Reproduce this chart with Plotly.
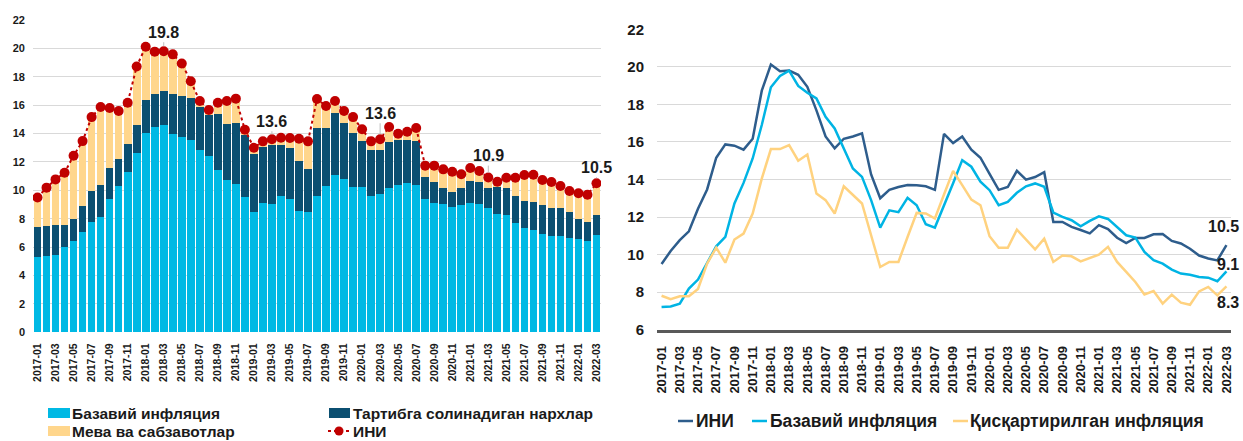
import plotly.graph_objects as go
import pandas as pd

months = [p.strftime("%Y-%m") for p in pd.period_range("2017-01", "2022-03", freq="M")]
tick_months = months[::2]

# Left chart: contributions (stacked bars) and headline CPI (ИНИ)
base_contrib = [5.28, 5.38, 5.45, 6.03, 6.43, 7.09, 7.79, 8.12, 9.37, 10.3, 11.27, 12.63,
                14.06, 14.44, 14.6, 13.99, 13.76, 13.54, 12.82, 12.39, 11.46, 10.73, 10.47, 9.53,
                8.45, 9.13, 9.04, 9.6, 9.37, 8.57, 8.45, 9.6, 10.3, 11.1, 10.8, 10.23,
                10.23, 9.6, 9.74, 10.19, 10.38, 10.54, 10.4, 9.37, 9.13, 9.04, 8.8, 8.97,
                9.13, 9.04, 8.76, 8.36, 8.24, 7.72, 7.35, 7.23, 6.95, 6.81, 6.81, 6.64,
                6.6, 6.46, 6.83]
regulated_contrib = [2.16, 2.11, 2.11, 1.53, 1.57, 1.78, 2.14, 2.26, 2.20, 1.88, 1.97, 1.99,
                     2.28, 2.37, 2.42, 2.82, 2.86, 2.99, 3.07, 2.94, 3.89, 3.94, 4.30, 4.37,
                     4.13, 3.92, 4.13, 3.62, 3.61, 3.52, 3.05, 4.79, 4.09, 4.32, 3.92, 3.78,
                     3.22, 3.22, 3.12, 3.19, 3.19, 3.03, 3.07, 1.59, 1.48, 1.15, 1.06, 1.22,
                     1.55, 1.57, 1.43, 1.87, 1.92, 1.90, 1.92, 1.97, 2.04, 1.95, 1.92, 1.81,
                     1.36, 1.31, 1.41]
fruitveg_contrib = [2.06, 2.70, 3.21, 3.68, 4.44, 4.60, 5.23, 5.49, 4.23, 3.41, 2.93, 4.11,
                    3.78, 2.96, 2.78, 2.77, 2.32, 1.15, 0.40, 0.33, 0.82, 1.62, 1.69, 0.37,
                    0.42, 0.40, 0.43, 0.49, 0.71, 1.55, 1.95, 2.04, 1.55, 0.87, 0.87, 1.15,
                    0.85, 0.63, 0.74, 1.08, 0.42, 0.56, 0.92, 0.78, 1.13, 1.29, 1.45, 0.94,
                    0.89, 0.75, 0.71, 0.38, 0.73, 1.27, 1.81, 1.90, 1.74, 1.83, 1.58, 1.50,
                    1.83, 1.92, 2.26]
cpi = [9.5, 10.19, 10.77, 11.24, 12.44, 13.47, 15.16, 15.87, 15.8, 15.59, 16.17, 18.73,
       20.12, 19.77, 19.8, 19.58, 18.94, 17.68, 16.29, 15.66, 16.17, 16.29, 16.46, 14.27,
       13.0, 13.45, 13.6, 13.71, 13.69, 13.64, 13.45, 16.43, 15.94, 16.29, 15.59, 15.16,
       14.3, 13.45, 13.6, 14.46, 13.99, 14.13, 14.39, 11.74, 11.74, 11.48, 11.31, 11.13,
       11.57, 11.36, 10.9, 10.61, 10.89, 10.89, 11.08, 11.1, 10.73, 10.59, 10.31, 9.95,
       9.79, 9.69, 10.5]

# Right chart: core and trimmed inflation
core = [7.21, 7.24, 7.39, 8.19, 8.67, 9.52, 10.44, 10.94, 12.72, 13.82, 15.12, 16.9,
        18.91, 19.51, 19.8, 18.98, 18.62, 18.32, 17.34, 16.72, 15.65, 14.59, 14.14, 12.9,
        11.44, 12.36, 12.26, 13.02, 12.63, 11.62, 11.44, 12.6, 13.8, 15.03, 14.68, 13.88,
        13.43, 12.63, 12.81, 13.29, 13.64, 13.79, 13.61, 12.24, 12.01, 11.83, 11.51, 11.8,
        12.04, 11.9, 11.48, 11.03, 10.91, 10.14, 9.7, 9.52, 9.2, 8.99, 8.93, 8.81,
        8.77, 8.58, 9.11]
trimmed = [7.81, 7.62, 7.78, 7.78, 8.17, 9.52, 10.37, 9.57, 10.8, 11.12, 12.19, 14.05,
           15.62, 15.62, 15.83, 15.0, 15.33, 13.25, 12.9, 12.19, 13.64, 13.16, 12.72, 11.03,
           9.34, 9.61, 9.61, 10.94, 12.22, 12.19, 11.92, 13.2, 14.46, 13.7, 12.93, 12.63,
           10.98, 10.36, 10.36, 11.33, 10.8, 10.28, 10.85, 9.61, 9.95, 9.91, 9.64, 9.84,
           10.0, 10.41, 9.61, 9.08, 8.54, 7.88, 8.06, 7.39, 7.87, 7.44, 7.33, 8.04,
           8.28, 7.83, 8.31]

left_label_months = ["2018-03", "2019-03", "2020-03", "2021-03", "2022-03"]
left_label_values = [19.8, 13.6, 13.6, 10.9, 10.5]
right_label_texts = ["10.5", "9.1", "8.3"]

W, H = 1243, 441
FONT = "Liberation Sans, Arial, sans-serif"
TXT = "#1a1a1a"
C_BASE = "#00B9E4"
C_REG = "#0B4F71"
C_FV = "#FFD68C"
C_RED = "#C00000"
C_CPI_LINE = "#2E5D8C"
C_CORE_LINE = "#00B4E4"
C_TRIM_LINE = "#FFD27F"


def px(x):
    return x / W


def py(y):
    return 1 - y / H


fig = go.Figure()
fig.add_trace(go.Bar(x=months, y=base_contrib, name="Базавий инфляция", marker_color=C_BASE,
                     marker_line_width=0, xaxis="x", yaxis="y"))
fig.add_trace(go.Bar(x=months, y=regulated_contrib, name="Тартибга солинадиган нархлар",
                     marker_color=C_REG, marker_line_width=0, xaxis="x", yaxis="y"))
fig.add_trace(go.Bar(x=months, y=fruitveg_contrib, name="Мева ва сабзавотлар", marker_color=C_FV,
                     marker_line_width=0, xaxis="x", yaxis="y"))
fig.add_trace(go.Scatter(x=months, y=cpi, name="ИНИ", mode="lines+markers",
                         line=dict(color=C_RED, width=2, dash="dot"),
                         marker=dict(color=C_RED, size=10), xaxis="x", yaxis="y"))

fig.add_trace(go.Scatter(x=months, y=cpi, name="ИНИ", mode="lines",
                         line=dict(color=C_CPI_LINE, width=2.5), xaxis="x2", yaxis="y2"))
fig.add_trace(go.Scatter(x=months, y=core, name="Базавий инфляция", mode="lines",
                         line=dict(color=C_CORE_LINE, width=2.5), xaxis="x2", yaxis="y2"))
fig.add_trace(go.Scatter(x=months, y=trimmed, name="Қисқартирилган инфляция", mode="lines",
                         line=dict(color=C_TRIM_LINE, width=2.5), xaxis="x2", yaxis="y2"))

annotations = []
label_font = dict(family=FONT, size=16, color=TXT, weight="bold")
for m, v, ay in zip(left_label_months, left_label_values, [-19, -18, -26, -22, -16]):
    annotations.append(dict(x=m, y=v, xref="x", yref="y", text=f"{v:.1f}", showarrow=True,
                            arrowhead=0, arrowwidth=1, arrowcolor="#bfbfbf", ax=0, ay=ay,
                            standoff=5, font=label_font))
for t, v, ys, xs in zip(right_label_texts, [cpi[-1], core[-1], trimmed[-1]], [19, 7, -16], [-3, 2, 2]):
    annotations.append(dict(x=months[-1], y=v, xref="x2", yref="y2", text=t, showarrow=False,
                            yshift=ys, xshift=xs, font=label_font))

# Custom legends (swatches as shapes, labels as annotations)
shapes = []
leg_font_l = dict(family=FONT, size=15.5, color=TXT, weight="bold")
leg_font_r = dict(family=FONT, size=17.5, color=TXT, weight="bold")


def leg_text(x, y, text, font):
    annotations.append(dict(x=px(x), y=py(y), xref="paper", yref="paper", text=text,
                            showarrow=False, xanchor="left", yanchor="middle", font=font))


def leg_rect(x0, x1, y, color):
    shapes.append(dict(type="rect", xref="paper", yref="paper", x0=px(x0), x1=px(x1),
                       y0=py(y - 5), y1=py(y + 5), fillcolor=color, line_width=0))


def leg_line(x0, x1, y, color, width=2.5, dash="solid"):
    shapes.append(dict(type="line", xref="paper", yref="paper", x0=px(x0), x1=px(x1),
                       y0=py(y), y1=py(y), line=dict(color=color, width=width, dash=dash)))


ROW1, ROW2 = 413, 431
leg_rect(48, 70, ROW1, C_BASE)
leg_text(70, ROW1, "Базавий инфляция", leg_font_l)
leg_rect(329, 350, ROW1, C_REG)
leg_text(351, ROW1, "Тартибга солинадиган нархлар", leg_font_l)
leg_rect(48, 70, ROW2, C_FV)
leg_text(70, ROW2, "Мева ва сабзавотлар", leg_font_l)
leg_line(328, 350, ROW2, C_RED, width=2, dash="dot")
shapes.append(dict(type="circle", xref="paper", yref="paper", x0=px(334.5), x1=px(343.5),
                   y0=py(ROW2 + 4.5), y1=py(ROW2 - 4.5), fillcolor=C_RED, line_width=0))
leg_text(351, ROW2, "ИНИ", leg_font_l)

ROWR = 421
leg_line(678, 693, ROWR, C_CPI_LINE)
leg_text(694, ROWR, "ИНИ", leg_font_r)
leg_line(752, 767, ROWR, C_CORE_LINE)
leg_text(768, ROWR, "Базавий инфляция", leg_font_r)
leg_line(953, 968, ROWR, C_TRIM_LINE)
leg_text(968, ROWR, "Қисқартирилган инфляция", leg_font_r)

fig.update_layout(
    width=W, height=H,
    margin=dict(l=0, r=0, t=0, b=0, autoexpand=False),
    paper_bgcolor="white", plot_bgcolor="white",
    barmode="stack", bargap=0.15,
    font=dict(family=FONT, color=TXT),
    showlegend=False,
    xaxis=dict(domain=[px(33), px(601)], type="category", categoryorder="array", categoryarray=months,
               range=[-0.5, 62.5], tickmode="array", tickvals=tick_months, ticktext=tick_months,
               tickangle=-90, tickfont=dict(family=FONT, size=10.5, color=TXT, weight="bold"),
               showgrid=False, showline=False, ticks="", ticklabelstandoff=8, anchor="y"),
    yaxis=dict(domain=[py(332.3), py(20)], range=[0, 22], dtick=2, tick0=0, gridcolor="#d9d9d9",
               gridwidth=1, zeroline=False, showline=False, ticks="",
               tickfont=dict(family=FONT, size=11, color=TXT, weight="bold"),
               ticklabelstandoff=7, anchor="x"),
    xaxis2=dict(domain=[px(657), px(1231)], type="category", categoryorder="array", categoryarray=months,
                range=[-0.5, 62.5], tickmode="array", tickvals=tick_months, ticktext=tick_months,
                tickangle=-90, tickfont=dict(family=FONT, size=13, color=TXT, weight="bold"),
                showgrid=False, showline=True, linecolor="#595959", linewidth=3, ticks="",
                ticklabelstandoff=8, anchor="y2"),
    yaxis2=dict(domain=[py(329.7), py(29.3)], range=[6, 22], dtick=2, tick0=6, gridcolor="#d9d9d9",
                gridwidth=1, zeroline=False, showline=False, ticks="",
                tickfont=dict(family=FONT, size=15, color=TXT, weight="bold"),
                ticklabelstandoff=12, anchor="x2"),
    annotations=annotations,
    shapes=shapes,
)

fig.write_html("out.html", config={"displayModeBar": False},
               post_script="document.body.style.margin='0px';")
